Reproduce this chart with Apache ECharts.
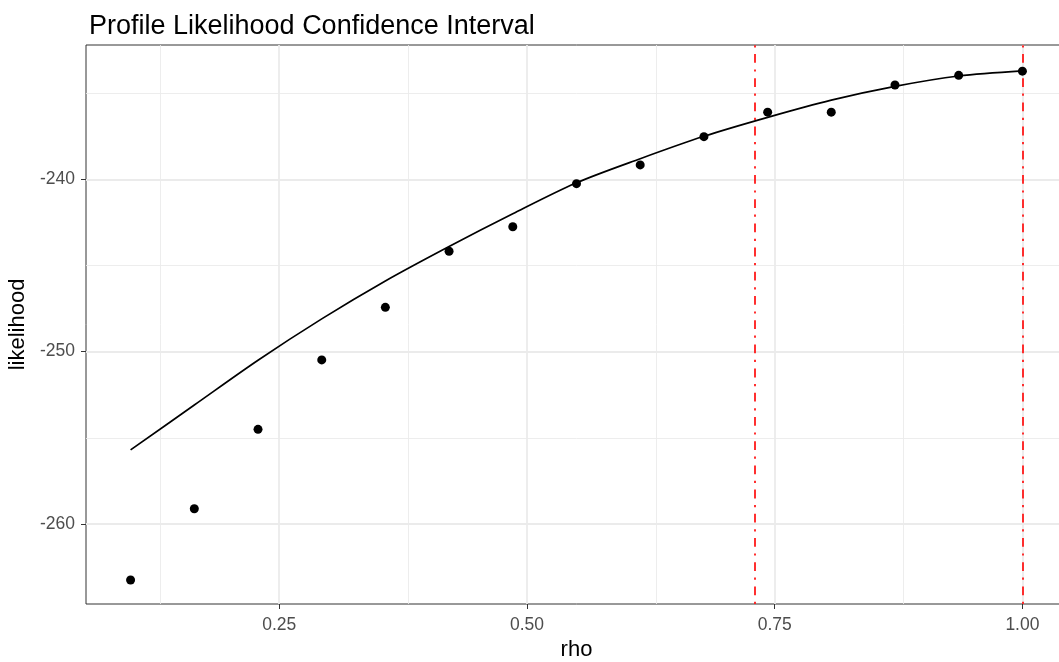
<!DOCTYPE html>
<html>
<head>
<meta charset="utf-8">
<title>Profile Likelihood Confidence Interval</title>
<script src="https://cdn.jsdelivr.net/npm/echarts@6/dist/echarts.min.js"></script>
<style>
  html, body { margin: 0; padding: 0; background: #fff; overflow: hidden; }
  /* panel runs past the right edge of the picture, as in the original */
  #chart { width: 1070px; height: 662px; }
</style>
</head>
<body>
<div id="chart"></div>
<script>
// profile likelihood at each rho
const rho = [0.1, 0.1643, 0.2286, 0.2929, 0.3571, 0.4214, 0.4857, 0.55, 0.6143, 0.6786, 0.7429, 0.8071, 0.8714, 0.9357, 1.0]
const likelihood = [-263.26, -259.12, -254.51, -250.48, -247.43, -244.17, -242.75, -240.25, -239.16, -237.52, -236.10, -236.10, -234.52, -233.96, -233.72]
// fitted curve, read at the same rho values
const fitted = [-255.7, -253.1, -250.5, -248.1, -245.9, -243.9, -242.0, -240.2, -238.8, -237.5, -236.4, -235.4, -234.6, -234.0, -233.7]
// confidence interval bounds (red lines)
const ciBounds = [0.729, 1.0]

const xTicks = [0.25, 0.5, 0.75, 1.0]
const xMinor = [0.125, 0.375, 0.625, 0.875]
const yTicks = [-260, -250, -240]
const yMinor = [-255, -245, -235]

const font = 'Liberation Sans, Arial, Helvetica, sans-serif'
const gridColor = '#EBEBEB'

const chart = echarts.init(document.getElementById('chart'))

const gridLines = []
xMinor.forEach(v => gridLines.push({ xAxis: v, lineStyle: { width: 0.9 } }))
yMinor.forEach(v => gridLines.push({ yAxis: v, lineStyle: { width: 0.9 } }))
xTicks.forEach(v => gridLines.push({ xAxis: v, lineStyle: { width: 1.8 } }))
yTicks.forEach(v => gridLines.push({ yAxis: v, lineStyle: { width: 1.8 } }))

chart.setOption({
  animation: false,
  textStyle: { fontFamily: font },
  title: {
    text: 'Profile Likelihood Confidence Interval',
    left: 84,
    top: 8,
    textStyle: { fontFamily: font, fontSize: 27, fontWeight: 'normal', color: '#000' }
  },
  grid: {
    left: 86,
    top: 45,
    width: 981,
    height: 559,
    outerBoundsMode: 'none',
    containLabel: false,
    show: true,
    borderColor: '#333333',
    borderWidth: 1,
    backgroundColor: 'transparent'
  },
  xAxis: {
    type: 'value',
    min: 0.055,
    max: 1.045,
    name: 'rho',
    nameLocation: 'middle',
    nameGap: 30,
    nameTextStyle: { fontFamily: font, fontSize: 22, color: '#000' },
    axisLine: { show: false },
    splitLine: { show: false },
    axisTick: { show: true, customValues: xTicks, length: 5, lineStyle: { color: '#333333' } },
    axisLabel: {
      customValues: xTicks,
      margin: 12,
      fontSize: 17.5,
      color: '#4D4D4D',
      formatter: v => v.toFixed(2)
    }
  },
  yAxis: {
    type: 'value',
    min: -264.65,
    max: -232.2,
    name: 'likelihood',
    nameLocation: 'middle',
    nameGap: 57,
    nameTextStyle: { fontFamily: font, fontSize: 22, color: '#000' },
    axisLine: { show: false },
    splitLine: { show: false },
    axisTick: { show: true, customValues: yTicks, length: 5, lineStyle: { color: '#333333' } },
    axisLabel: {
      customValues: yTicks,
      margin: 11,
      fontSize: 17.5,
      color: '#4D4D4D',
      formatter: v => String(v)
    }
  },
  series: [
    {
      // background grid
      type: 'line',
      data: [],
      z: 1,
      silent: true,
      markLine: {
        z: 1,
        silent: true,
        symbol: ['none', 'none'],
        label: { show: false },
        lineStyle: { color: gridColor, type: 'solid' },
        data: gridLines
      }
    },
    {
      type: 'line',
      data: rho.map((r, i) => [r, fitted[i]]),
      smooth: 0.3,
      showSymbol: false,
      z: 3,
      lineStyle: { color: '#000', width: 1.7 },
      markLine: {
        z: 3,
        silent: true,
        symbol: ['none', 'none'],
        label: { show: false },
        lineStyle: { color: '#FF1A1A', width: 1.8, type: [2.2, 6.6, 8.8, 6.6] },
        data: ciBounds.map(v => ({ xAxis: v }))
      }
    },
    {
      type: 'scatter',
      data: rho.map((r, i) => [r, likelihood[i]]),
      symbolSize: 9,
      z: 4,
      itemStyle: { color: '#000', opacity: 1 }
    }
  ]
})
</script>
</body>
</html>
